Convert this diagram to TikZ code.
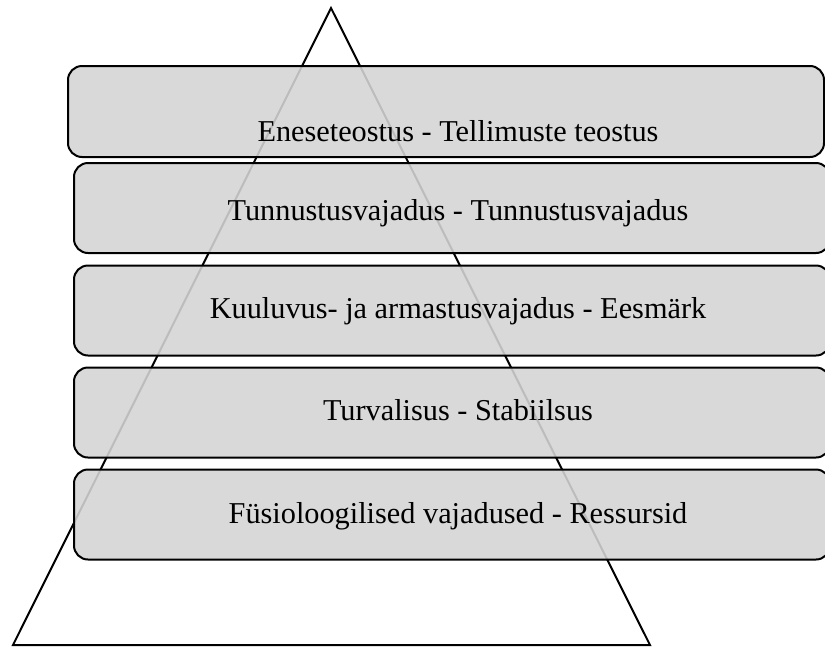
\documentclass[tikz,border=0pt]{standalone}
\usepackage{fontspec}
\setmainfont{Liberation Serif}
\usepackage{xcolor}
\usetikzlibrary{positioning}

\definecolor{layerfill}{RGB}{212,212,212}

\begin{document}
\begin{tikzpicture}[
    x=1pt, y=-1pt,
    layer/.style={draw, line width=2pt, rectangle, rounded corners=14pt, fill=layerfill, fill opacity=0.89, draw opacity=1, inner sep=0pt},
    lbl/.style={anchor=base, inner sep=0pt, font=\fontsize{30.3}{34}\selectfont},
    edge/.style={line width=2pt, line join=miter}
]
\useasboundingbox (0,0) rectangle (825,646);

% Pyramid
\coordinate (apex) at (331,8);
\coordinate (baseL) at (13,645);
\coordinate (baseR) at (650,645);
\draw [edge] (baseL) -- (apex) -- (baseR) -- cycle;

% Layers
\node (self) [layer, minimum width=756pt, minimum height=91pt] at (446,111.5) {};
\node (esteem) [layer, minimum width=756pt, minimum height=90pt] at (452,208) {};
\node (belong) [layer, minimum width=756pt, minimum height=90pt] at (452,310.5) {};
\node (safety) [layer, minimum width=756pt, minimum height=90pt] at (452,412.5) {};
\node (physio) [layer, minimum width=756pt, minimum height=90pt] at (452,514.5) {};

% Labels
\node (selftxt) [lbl] at (458,141) {Eneseteostus - Tellimuste teostus};
\node (esteemtxt) [lbl] at (458,220) {Tunnustusvajadus - Tunnustusvajadus};
\node (belongtxt) [lbl] at (458,318) {Kuuluvus- ja armastusvajadus - Eesmärk};
\node (safetytxt) [lbl] at (458,420) {Turvalisus - Stabiilsus};
\node (physiotxt) [lbl] at (458,523) {Füsioloogilised vajadused - Ressursid};

\end{tikzpicture}
\end{document}
